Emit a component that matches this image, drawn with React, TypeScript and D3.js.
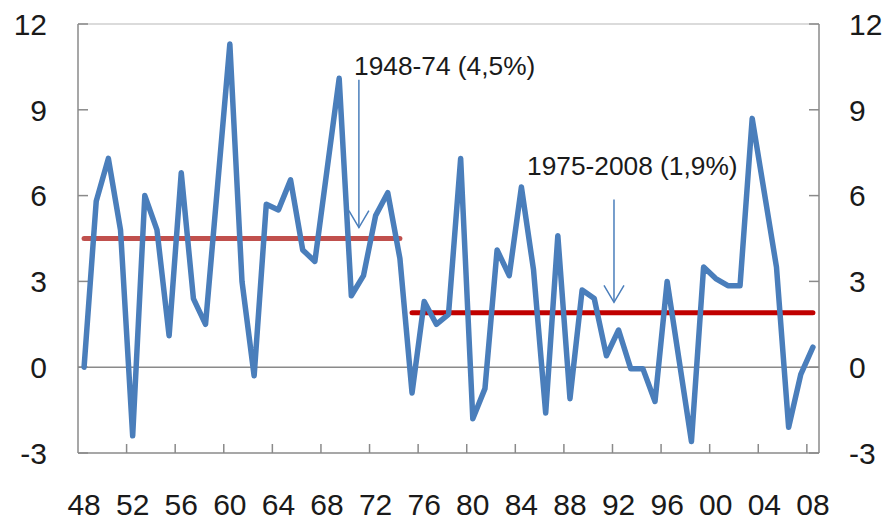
import React from 'react';
import * as d3 from 'd3';

// annual growth, 1948-2008
const years = d3.range(1948, 2009);
const growth = [
  0.0, 5.8, 7.3, 4.8, -2.4, 6.0, 4.8, 1.1, 6.8, 2.4,
  1.5, 6.4, 11.3, 3.0, -0.3, 5.7, 5.5, 6.55, 4.1, 3.7,
  6.9, 10.1, 2.5, 3.2, 5.3, 6.1, 3.8, -0.9, 2.3, 1.5,
  1.85, 7.3, -1.8, -0.75, 4.1, 3.2, 6.3, 3.4, -1.6, 4.6,
  -1.1, 2.7, 2.4, 0.4, 1.3, -0.05, -0.05, -1.2, 3.0, 0.2,
  -2.6, 3.5, 3.1, 2.85, 2.85, 8.7, 6.1, 3.5, -2.1, -0.25,
  0.7,
];

const periodFrom = [1948, 1975];
const periodTo = [1974, 2008];
const periodMean = [4.5, 1.9];
const periodLabels = ['1948-74 (4,5%)', '1975-2008 (1,9%)'];

const yTicks = [-3, 0, 3, 6, 9, 12];

const width = 887;
const height = 524;
const left = 78;
const right = 819;
const top = 24;
const bottom = 453;

const font = '"Liberation Sans", Arial, sans-serif';
const axisGrey = '#8a8a8a';

export default function App() {
  const x = d3.scaleBand<number>().domain(years).range([left, right]).padding(0);
  const bw = x.bandwidth();
  const cx = (yr: number) => (x(yr) as number) + bw / 2;
  const y = d3.scaleLinear().domain([-3, 12]).range([bottom, top]);

  const line = d3
    .line<number>()
    .x((d, i) => cx(years[i]))
    .y(d => y(d));

  const xLabelYears = years.filter(yr => (yr - 1948) % 4 === 0);
  const xTickYears = xLabelYears.slice(1);

  // arrows: x in years (band edge), y in values
  const arrows = [
    { xYear: 1971, top: 10.05, tip: 4.88, textX: 354, textY: 75 },
    { xYear: 1992, top: 5.86, tip: 2.27, textX: 527, textY: 175 },
  ];
  const arrowBlue = '#4a7ebb';
  const periodColors = ['#c0504d', '#c00000'];

  return (
    <svg
      width={width}
      height={height}
      style={{ position: 'absolute', left: 0, top: 0, background: '#fff' }}
      fontFamily={font}
    >
      {/* frame */}
      <line x1={left} x2={right} y1={top} y2={top} stroke="#cfcfcf" strokeWidth={1.5} />
      <line x1={left} x2={left} y1={top} y2={bottom} stroke={axisGrey} strokeWidth={1.5} />
      <line x1={right} x2={right} y1={top} y2={bottom} stroke={axisGrey} strokeWidth={1.5} />
      <line x1={left} x2={right} y1={bottom} y2={bottom} stroke={axisGrey} strokeWidth={1.5} />
      <line x1={left} x2={right} y1={y(0)} y2={y(0)} stroke={axisGrey} strokeWidth={1.5} />

      {yTicks.map(t => (
        <g key={t}>
          <line x1={left} x2={left + 10} y1={y(t)} y2={y(t)} stroke={axisGrey} strokeWidth={1.5} />
          <line x1={right - 10} x2={right} y1={y(t)} y2={y(t)} stroke={axisGrey} strokeWidth={1.5} />
          <text x={47} y={y(t)} dy="0.36em" textAnchor="end" fontSize={30} fill="#1a1a1a">
            {t}
          </text>
          <text x={849} y={y(t)} dy="0.36em" textAnchor="start" fontSize={30} fill="#1a1a1a">
            {t}
          </text>
        </g>
      ))}

      {xTickYears.map(yr => (
        <line
          key={yr}
          x1={x(yr)}
          x2={x(yr)}
          y1={bottom}
          y2={bottom - 9}
          stroke={axisGrey}
          strokeWidth={1.5}
        />
      ))}
      {xLabelYears.map(yr => (
        <text key={yr} x={cx(yr)} y={515} textAnchor="middle" fontSize={30} fill="#1a1a1a">
          {String(yr % 100).padStart(2, '0')}
        </text>
      ))}

      {/* period averages */}
      {periodMean.map((m, i) => (
        <line
          key={i}
          x1={cx(periodFrom[i])}
          x2={cx(periodTo[i])}
          y1={y(m)}
          y2={y(m)}
          stroke={periodColors[i]}
          strokeWidth={5}
          strokeLinecap="round"
        />
      ))}

      <path
        d={line(growth) || ''}
        fill="none"
        stroke="#4a7ebb"
        strokeWidth={5.5}
        strokeLinejoin="round"
        strokeLinecap="round"
      />

      {arrows.map((a, i) => {
        const ax = (x(a.xYear) as number) + 1.5;
        const ty = y(a.tip);
        return (
          <g key={i}>
            <line x1={ax} x2={ax} y1={y(a.top)} y2={ty} stroke={arrowBlue} strokeWidth={1.5} />
            <path
              d={`M${ax - 10},${ty - 17}L${ax},${ty}L${ax + 10},${ty - 17}`}
              fill="none"
              stroke={arrowBlue}
              strokeWidth={1.5}
            />
            <text x={a.textX} y={a.textY} fontSize={26.3} fill="#1a1a1a">
              {periodLabels[i]}
            </text>
          </g>
        );
      })}
    </svg>
  );
}
